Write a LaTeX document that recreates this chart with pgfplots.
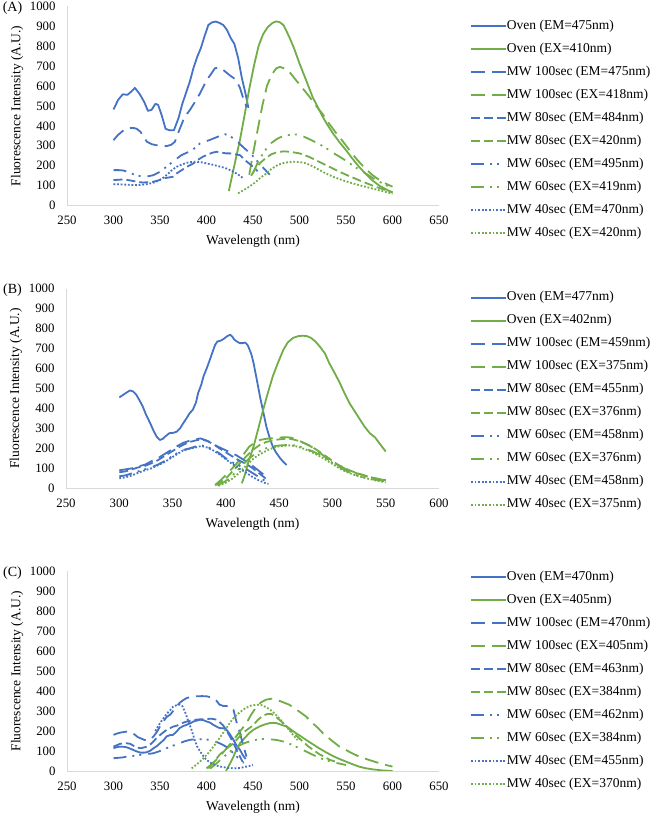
\documentclass[border=0pt]{standalone}
\usepackage{fontspec}
\setmainfont{Liberation Serif}
\usepackage{pgfplots}
\pgfplotsset{compat=1.18}
\definecolor{xblue}{HTML}{4472C4}
\definecolor{xgreen}{HTML}{70AD47}
\pgfplotsset{
 LD/.style={dash pattern=on 14pt off 7pt},
 MD/.style={dash pattern=on 9pt off 4pt},
 DDt/.style={dash pattern=on 13pt off 6pt on 2pt off 5pt on 2pt off 7pt},
 DT/.style={dash pattern=on 1.8pt off 1.8pt},
 excel/.style={
  anchor=south west, width=372pt, height=199.7pt, scale only axis,
  ymin=0, ymax=1000, xmin=250, ytick distance=100, xtick distance=50,
  axis x line*=bottom, axis y line*=left,
  axis line style={draw=black!15, line width=0.8pt},
  major tick length=0pt,
  tick label style={font=\fontsize{12.8}{14}\selectfont},
  label style={font=\fontsize{13.5}{16}\selectfont},
  xticklabel style={yshift=-7pt},
  yticklabel style={xshift=-8pt},
  /pgf/number format/1000 sep={},
  /pgf/number format/assume math mode=true,
  xlabel={Wavelength (nm)}, ylabel={Fluorescence Intensity (A.U.)},
  xlabel style={at={(axis description cs:0.5,-0.18)}, anchor=center},
  ylabel style={at={(axis description cs:-0.134,0.5)}, anchor=center},
  every axis plot/.append style={line width=1.8pt, line join=round},
  legend image code/.code={\draw[#1] (0pt,0pt) -- (35pt,0pt);},
  legend cell align=left,
  legend style={draw=none, fill=none, anchor=north west, inner sep=0pt,
    font=\fontsize{13.5}{16}\selectfont, row sep=10pt,
    nodes={inner sep=0pt, text height=9.5pt, text depth=3.5pt},
    /tikz/every even column/.append style={column sep=3pt}},
 }
}
\begin{document}
\begin{tikzpicture}
\path[use as bounding box] (0,0) rectangle (656pt,816pt);
% ---------------- (A)
\node[font=\fontsize{14}{16}\selectfont] at (12.5pt,808pt) {(A)};
\begin{axis}[excel, at={(67pt,610.3pt)}, xmax=650,
  legend style={at={(1.0833,0.9325)}}]
\addplot[xblue] coordinates {(300,482) (305,530) (310,558) (315,555) (320,575) (323,590) (328,560) (333,520) (337,475) (341,480) (345,510) (348,505) (352,450) (356,385) (360,378) (365,378) (370,440) (374,510) (378,565) (382,620) (386,690) (390,745) (394,790) (398,850) (402,905) (406,918) (410,922) (414,915) (418,905) (422,880) (426,840) (430,810) (434,740) (438,640) (442,560) (445,490)};
\addlegendentry{Oven (EM=475nm)}
\addplot[xgreen] coordinates {(424,73) (428,160) (432,245) (436,330) (441,455) (446,585) (451,700) (456,800) (461,860) (466,895) (471,915) (475,923) (479,918) (483,903) (489,845) (494,790) (500,712) (507,630) (514,545) (520,490) (525,445) (530,405) (536,362) (543,318) (550,278) (557,235) (564,195) (571,160) (578,128) (586,100) (593,82) (600,65)};
\addlegendentry{Oven (EX=410nm)}
\addplot[xblue,LD] coordinates {(300,328) (305,355) (311,378) (316,388) (321,390) (325,385) (329,370) (333,340) (336,320) (341,308) (346,303) (352,300) (357,298) (362,305) (366,320) (370,370) (375,428) (379,460) (382,478) (387,515) (393,562) (397,600) (400,628) (405,660) (409,688) (413,692) (416,688) (420,672) (425,653) (429,640) (432,628) (436,590) (439,545) (443,495)};
\addlegendentry{MW 100sec (EM=475nm)}
\addplot[xgreen,LD] coordinates {(446,155) (450,260) (455,380) (460,500) (465,600) (470,655) (475,688) (479,695) (485,685) (490,665) (496,630) (503,590) (510,550) (517,505) (525,458) (532,410) (540,360) (547,320) (555,270) (562,230) (570,190) (578,155) (586,128) (593,110) (600,95)};
\addlegendentry{MW 100sec (EX=418nm)}
\addplot[xblue,MD] coordinates {(300,128) (306,130) (311,132) (316,128) (321,124) (327,118) (332,116) (338,118) (343,120) (349,128) (354,137) (359,141) (364,145) (368,162) (374,180) (379,195) (386,212) (391,230) (396,245) (402,257) (406,265) (411,270) (416,266) (421,262) (425,262) (431,257) (436,253) (443,222) (450,195) (455,172)};
\addlegendentry{MW 80sec (EM=484nm)}
\addplot[xgreen,MD] coordinates {(448,150) (453,190) (458,215) (464,240) (470,258) (476,268) (483,272) (490,270) (500,262) (510,245) (521,220) (532,195) (543,170) (555,145) (568,120) (580,98) (590,82) (600,68)};
\addlegendentry{MW 80sec (EX=420nm)}
\addplot[xblue,DDt] coordinates {(300,178) (306,178) (311,176) (316,168) (321,158) (327,150) (332,145) (338,148) (343,153) (350,170) (357,195) (365,225) (373,253) (382,272) (388,290) (393,312) (399,322) (404,330) (412,345) (420,358) (425,348) (429,337) (434,318) (439,295) (445,270) (450,248) (456,215) (462,185) (468,155)};
\addlegendentry{MW 60sec (EM=495nm)}
\addplot[xgreen,DDt] coordinates {(450,163) (455,215) (460,255) (465,290) (470,315) (476,335) (482,348) (490,355) (497,357) (505,345) (512,330) (520,312) (529,287) (537,262) (545,240) (553,215) (561,190) (571,162) (580,135) (590,110) (600,87)};
\addlegendentry{MW 60sec (EX=419nm)}
\addplot[xblue,DT] coordinates {(300,108) (306,107) (311,106) (318,104) (325,103) (331,105) (336,108) (341,113) (346,120) (352,135) (357,153) (362,175) (368,195) (374,207) (379,215) (384,219) (389,220) (395,217) (400,212) (406,206) (411,200) (416,194) (421,187) (427,175) (432,162) (436,150) (440,135)};
\addlegendentry{MW 40sec (EM=470nm)}
\addplot[xgreen,DT] coordinates {(434,62) (440,78) (446,95) (452,115) (458,140) (464,160) (470,185) (477,205) (484,215) (492,220) (500,219) (507,212) (514,198) (521,180) (529,160) (536,145) (546,128) (557,112) (568,98) (579,85) (590,72) (600,60)};
\addlegendentry{MW 40sec (EX=420nm)}
\end{axis}
% ---------------- (B)
\node[font=\fontsize{14}{16}\selectfont] at (12.5pt,526pt) {(B)};
\begin{axis}[excel, at={(66pt,327.7pt)}, xmax=600, width=373pt,
  legend style={at={(1.083,0.9875)}}]
\addplot[xblue] coordinates {(300,455) (305,473) (310,490) (313,485) (316,468) (319,440) (322,410) (325,370) (329,326) (332,290) (335,259) (338,242) (341,248) (343,259) (347,276) (351,278) (354,284) (357,300) (360,326) (363,350) (366,376) (369,393) (372,430) (374,477) (377,520) (379,560) (382,600) (385,644) (388,690) (390,719) (392,735) (395,739) (398,748) (401,761) (404,769) (406,760) (408,744) (411,733) (413,727) (416,727) (418,730) (420,720) (421,711) (424,670) (426,627) (429,545) (432,460) (435,385) (438,309) (441,255) (444,209) (447,180) (451,150) (454,132) (457,117)};
\addlegendentry{Oven (EM=477nm)}
\addplot[xgreen] coordinates {(415,25) (418,70) (421,130) (426,209) (430,290) (435,393) (439,470) (444,560) (449,630) (454,694) (458,730) (463,753) (468,762) (472,764) (476,762) (480,753) (484,735) (488,711) (493,675) (497,627) (502,578) (507,527) (511,480) (516,426) (521,385) (526,343) (530,310) (535,276) (540,255) (544,226) (547,205) (550,184)};
\addlegendentry{Oven (EX=402nm)}
\addplot[xblue,LD] coordinates {(300,90) (306,95) (312,100) (318,110) (324,118) (330,135) (336,150) (342,170) (348,190) (354,210) (360,228) (366,238) (372,245) (376,250) (380,243) (386,230) (392,210) (398,195) (404,180) (410,165) (416,145) (422,125) (428,100) (434,75) (440,50)};
\addlegendentry{MW 100sec (EM=459nm)}
\addplot[xgreen,LD] coordinates {(390,17) (395,40) (400,67) (406,100) (413,142) (418,180) (422,209) (427,228) (432,242) (438,248) (444,251) (450,254) (456,256) (461,254) (466,245) (472,230) (478,215) (484,195) (490,170) (496,145) (502,125) (508,108) (514,92) (520,80) (526,70) (532,60) (540,50) (550,40)};
\addlegendentry{MW 100sec (EX=375nm)}
\addplot[xblue,MD] coordinates {(300,80) (306,85) (312,95) (318,105) (324,112) (330,125) (336,140) (342,160) (348,180) (354,200) (360,218) (366,232) (372,240) (377,245) (382,238) (388,222) (394,200) (400,180) (406,160) (412,140) (418,125) (424,105) (430,80) (436,55) (440,38)};
\addlegendentry{MW 80sec (EM=455nm)}
\addplot[xgreen,MD] coordinates {(390,15) (396,35) (402,60) (408,95) (414,130) (420,165) (426,195) (432,218) (438,232) (444,240) (450,245) (456,248) (462,246) (468,238) (474,225) (480,210) (486,190) (492,168) (498,145) (504,122) (510,105) (516,90) (522,78) (528,68) (534,58) (542,48) (550,42)};
\addlegendentry{MW 80sec (EX=376nm)}
\addplot[xblue,DDt] coordinates {(300,60) (306,65) (312,75) (318,85) (324,95) (330,105) (336,118) (342,135) (348,155) (354,175) (360,192) (366,200) (372,210) (377,215) (382,208) (388,195) (394,175) (400,150) (406,130) (412,115) (418,100) (424,80) (430,60) (436,40) (440,28)};
\addlegendentry{MW 60sec (EM=458nm)}
\addplot[xgreen,DDt] coordinates {(392,15) (398,30) (404,52) (410,85) (416,118) (422,150) (428,175) (434,192) (440,205) (446,212) (452,215) (458,217) (464,215) (470,208) (476,196) (482,184) (488,168) (494,150) (500,128) (506,108) (512,90) (518,75) (524,63) (530,54) (538,45) (550,35)};
\addlegendentry{MW 60sec (EX=376nm)}
\addplot[xblue,DT] coordinates {(300,50) (306,55) (312,65) (318,78) (324,90) (330,100) (336,115) (342,130) (348,150) (354,170) (360,190) (366,198) (372,205) (377,212) (382,205) (388,190) (394,170) (400,145) (406,122) (412,100) (418,82) (424,60) (430,42) (436,28) (440,22)};
\addlegendentry{MW 40sec (EM=458nm)}
\addplot[xgreen,DT] coordinates {(393,12) (400,28) (406,48) (412,75) (418,108) (424,140) (430,165) (436,182) (442,198) (448,208) (454,213) (460,215) (466,210) (472,200) (478,188) (484,172) (490,155) (496,135) (502,115) (508,95) (514,80) (520,68) (526,58) (532,50) (540,40) (550,30)};
\addlegendentry{MW 40sec (EX=375nm)}
\end{axis}
% ---------------- (C)
\node[font=\fontsize{14}{16}\selectfont] at (12.5pt,242.7pt) {(C)};
\begin{axis}[excel, at={(67pt,45pt)}, xmax=650,
  legend style={at={(1.0833,1.004)}}]
\addplot[xblue] coordinates {(300,114) (304,120) (307,122) (311,121) (314,119) (318,112) (321,106) (325,98) (329,92) (333,92) (336,94) (340,103) (343,114) (347,126) (350,139) (354,155) (357,173) (361,180) (364,181) (368,198) (371,215) (375,225) (379,232) (383,240) (386,248) (390,253) (393,257) (397,254) (400,248) (404,242) (407,232) (411,222) (414,215) (418,214) (421,210) (425,185) (429,156) (432,130) (436,106) (439,80) (442,60)};
\addlegendentry{Oven (EM=470nm)}
\addplot[xgreen] coordinates {(421,0) (425,35) (429,72) (432,105) (436,139) (441,165) (446,190) (451,208) (457,223) (462,232) (468,240) (472,241) (475,240) (480,232) (486,223) (491,207) (496,190) (502,172) (507,156) (514,135) (521,114) (528,95) (536,75) (543,60) (550,47) (557,34) (564,22) (571,14) (579,8) (589,3) (600,0)};
\addlegendentry{Oven (EX=405nm)}
\addplot[xblue,LD] coordinates {(300,181) (304,188) (308,193) (311,195) (315,198) (318,196) (322,185) (326,170) (329,164) (333,156) (336,153) (340,160) (343,173) (347,198) (350,223) (354,250) (357,270) (361,282) (364,300) (368,325) (371,341) (375,355) (379,366) (383,370) (389,374) (395,375) (400,374) (404,370) (407,366) (411,350) (414,332) (418,326) (422,325) (425,324) (429,307) (432,250) (436,190) (440,120) (443,72)};
\addlegendentry{MW 100sec (EM=470nm)}
\addplot[xgreen,LD] coordinates {(400,13) (407,40) (414,72) (421,110) (429,156) (436,198) (443,240) (448,282) (454,324) (459,345) (464,357) (470,362) (475,357) (482,345) (489,332) (496,310) (502,290) (507,273) (514,240) (520,215) (525,190) (534,155) (543,122) (554,95) (564,72) (575,55) (586,39) (593,30) (600,22)};
\addlegendentry{MW 100sec (EX=405nm)}
\addplot[xblue,MD] coordinates {(300,122) (304,130) (307,136) (311,138) (314,139) (318,136) (322,125) (325,118) (329,114) (333,118) (336,122) (340,135) (343,148) (346,164) (350,180) (354,195) (357,206) (361,215) (364,222) (368,227) (372,235) (375,242) (379,248) (384,253) (389,257) (394,259) (400,260) (405,262) (411,257) (414,245) (418,228) (421,206) (425,175) (429,139) (432,110) (436,72) (439,45)};
\addlegendentry{MW 80sec (EM=463nm)}
\addplot[xgreen,MD] coordinates {(402,13) (408,45) (414,81) (421,110) (429,139) (434,165) (439,190) (444,208) (450,228) (455,255) (460,275) (465,285) (470,285) (475,270) (480,250) (486,225) (491,200) (497,175) (503,150) (509,125) (515,105) (521,85) (527,70) (533,55) (540,45)};
\addlegendentry{MW 80sec (EX=384nm)}
\addplot[xblue,DDt] coordinates {(300,64) (305,66) (310,68) (314,72) (320,75) (325,78) (329,81) (335,85) (340,87) (343,89) (350,100) (357,114) (364,127) (371,139) (376,148) (382,156) (388,159) (393,159) (398,158) (404,156) (409,148) (414,139) (418,130) (421,122) (425,106) (429,89) (432,75) (436,55) (440,40)};
\addlegendentry{MW 60sec (EM=462nm)}
\addplot[xgreen,DDt] coordinates {(404,12) (410,35) (416,60) (422,85) (428,108) (434,125) (440,138) (446,148) (452,155) (458,160) (464,160) (470,158) (476,155) (482,148) (490,135) (498,118) (506,100) (514,82) (522,65) (530,52) (538,42) (545,35) (550,30)};
\addlegendentry{MW 60sec (EX=384nm)}
\addplot[xblue,DT] coordinates {(345,200) (350,240) (354,265) (357,285) (361,305) (364,322) (368,330) (371,333) (374,325) (377,295) (380,255) (384,205) (387,160) (390,122) (394,92) (397,72) (400,55) (405,40) (410,28) (415,22) (420,18) (425,15) (430,13) (436,15) (441,20) (446,25) (450,30)};
\addlegendentry{MW 40sec (EM=455nm)}
\addplot[xgreen,DT] coordinates {(384,13) (390,35) (396,60) (402,90) (408,125) (414,165) (420,205) (425,240) (430,270) (436,295) (442,315) (448,328) (454,332) (459,330) (464,320) (469,305) (474,285) (479,260) (484,232) (489,205) (494,175) (498,155)};
\addlegendentry{MW 40sec (EX=370nm)}
\end{axis}
\end{tikzpicture}
\end{document}
